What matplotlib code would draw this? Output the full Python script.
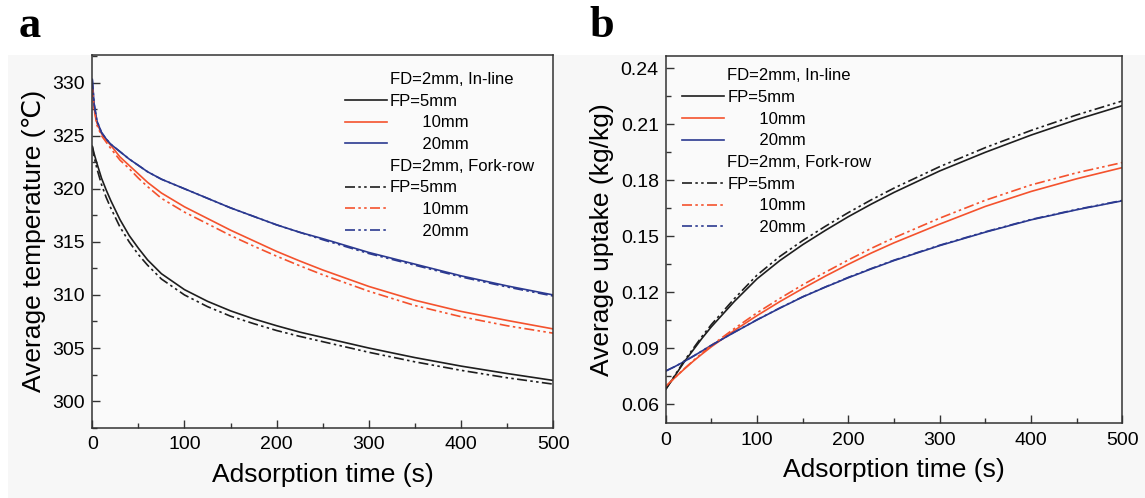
import numpy as np
import matplotlib
matplotlib.use("Agg")
import matplotlib.pyplot as plt
from matplotlib.lines import Line2D
from matplotlib.patches import Rectangle
from matplotlib.ticker import AutoMinorLocator, MultipleLocator

plt.rcParams['font.family'] = ['Liberation Sans', 'DejaVu Sans']

# --- panel a: average temperature ---
t_a = [0, 2, 5, 10, 15, 20, 30, 40, 50, 60, 75, 100, 125, 150, 175, 200,
       225, 250, 300, 350, 400, 450, 500]
T_in5 = [324.0, 323.3, 322.4, 321.0, 319.9, 318.9, 317.1, 315.6, 314.4, 313.3, 312.0, 310.5,
         309.4, 308.5, 307.75, 307.1, 306.5, 306.0, 305.0, 304.1, 303.3, 302.6, 301.95]
T_in10 = [329.6, 327.6, 326.2, 325.2, 324.6, 324.1, 323.0, 322.2, 321.4, 320.6, 319.6, 318.3,
          317.2, 316.1, 315.1, 314.1, 313.2, 312.35, 310.8, 309.5, 308.45, 307.6, 306.8]
T_in20 = [330.3, 328.0, 326.4, 325.3, 324.7, 324.2, 323.5, 322.8, 322.2, 321.6, 320.9, 320.0,
          319.1, 318.2, 317.4, 316.6, 315.9, 315.3, 314.0, 312.9, 311.8, 310.85, 310.0]
T_fk5 = [324.0, 323.0, 321.9, 320.4, 319.2, 318.2, 316.4, 315.0, 313.8, 312.8, 311.5, 310.0,
         308.9, 308.0, 307.3, 306.65, 306.1, 305.6, 304.6, 303.7, 302.9, 302.2, 301.6]
T_fk10 = [329.6, 327.5, 326.0, 325.0, 324.4, 323.8, 322.7, 321.9, 321.0, 320.2, 319.1, 317.8,
          316.7, 315.6, 314.6, 313.65, 312.75, 311.9, 310.35, 309.0, 307.95, 307.1, 306.4]
T_fk20 = [330.3, 328.0, 326.4, 325.3, 324.7, 324.2, 323.5, 322.8, 322.2, 321.6, 320.9, 320.0,
          319.1, 318.2, 317.4, 316.6, 315.9, 315.2, 313.9, 312.8, 311.7, 310.75, 309.9]

# --- panel b: average uptake ---
t_b = [0, 10, 20, 30, 40, 50, 75, 100, 125, 150, 175, 200, 225, 250, 300, 350, 400, 450, 500]
U_in5 = [0.0680, 0.0752, 0.0825, 0.0890, 0.0955, 0.1015, 0.1150, 0.1272, 0.1370, 0.1455,
         0.1532, 0.1605, 0.1672, 0.1735, 0.1850, 0.1950, 0.2042, 0.2125, 0.2200]
U_in10 = [0.0695, 0.0742, 0.0787, 0.0830, 0.0870, 0.0908, 0.0995, 0.1075, 0.1150, 0.1220,
          0.1287, 0.1350, 0.1410, 0.1465, 0.1565, 0.1660, 0.1740, 0.1808, 0.1868]
U_in20 = [0.0778, 0.0802, 0.0828, 0.0857, 0.0886, 0.0916, 0.0985, 0.1052, 0.1115, 0.1175,
          0.1228, 0.1278, 0.1325, 0.1370, 0.1450, 0.1522, 0.1588, 0.1642, 0.1690]
U_fk5 = [0.0680, 0.0755, 0.0830, 0.0898, 0.0965, 0.1027, 0.1165, 0.1292, 0.1392, 0.1477,
         0.1554, 0.1627, 0.1695, 0.1758, 0.1873, 0.1975, 0.2067, 0.2150, 0.2225]
U_fk10 = [0.0695, 0.0743, 0.0789, 0.0833, 0.0875, 0.0915, 0.1005, 0.1090, 0.1167, 0.1240,
          0.1308, 0.1373, 0.1435, 0.1492, 0.1597, 0.1693, 0.1775, 0.1840, 0.1895]
U_fk20 = [0.0778, 0.0802, 0.0828, 0.0857, 0.0886, 0.0916, 0.0986, 0.1053, 0.1116, 0.1176,
          0.1229, 0.1280, 0.1327, 0.1372, 0.1452, 0.1524, 0.1590, 0.1644, 0.1692]

colors = ['#1e1e1e', '#f4522d', '#2b3990']
dashdotdot = (0, (6, 2, 1.5, 2, 1.5, 2))
labels = ['FP=5mm', '       10mm', '       20mm']

fig = plt.figure(figsize=(11.45, 4.98), dpi=100)
fig.patches.append(Rectangle((0.007, 0.0), 0.993, 0.89, transform=fig.transFigure,
                             facecolor='#f7f7f7', edgecolor='none', zorder=-10))

ax1 = fig.add_axes([0.0806, 0.1412, 0.4026, 0.7484])
ax2 = fig.add_axes([0.5814, 0.150, 0.3988, 0.7376])


def style(ax):
    ax.set_facecolor('#fafafa')
    ax.set_xlim(0, 500)
    ax.xaxis.set_major_locator(MultipleLocator(100))
    ax.xaxis.set_minor_locator(AutoMinorLocator(2))
    ax.yaxis.set_minor_locator(AutoMinorLocator(2))
    ax.tick_params(which='both', direction='in', labelsize=14, color='#333333')
    ax.tick_params(which='major', length=6, width=1)
    ax.tick_params(which='minor', length=3.5, width=1)
    ax.tick_params(axis='x', pad=6)
    ax.tick_params(axis='y', pad=5)
    for s in ax.spines.values():
        s.set_linewidth(1.1)
        s.set_color('#333333')
    ax.set_xlabel('Adsorption time (s)', fontsize=19, labelpad=7)


def legend(ax, x, y):
    blank = Line2D([], [], linestyle='none')
    hs = [blank]
    for c in colors:
        hs.append(Line2D([], [], color=c, lw=1.2))
    hs.append(blank)
    for c in colors:
        hs.append(Line2D([], [], color=c, lw=1.2, linestyle=dashdotdot))
    ls = ['FD=2mm, In-line'] + labels + ['FD=2mm, Fork-row'] + labels
    ax.legend(hs, ls, loc='upper left', bbox_to_anchor=(x, y), frameon=False,
              fontsize=12, handlelength=2.5, handletextpad=0.2,
              labelspacing=0.4, borderpad=0, borderaxespad=0)


# panel a
for ys, c in zip([T_in5, T_in10, T_in20], colors):
    ax1.plot(t_a, ys, color=c, lw=1.2)
for ys, c in zip([T_fk5, T_fk10, T_fk20], colors):
    ax1.plot(t_a, ys, color=c, lw=1.2, linestyle=dashdotdot)
style(ax1)
ax1.set_ylim(297.5, 332.6)
ax1.yaxis.set_major_locator(MultipleLocator(5))
ax1.set_ylabel('Average temperature (\u2103)', fontsize=19, labelpad=5)
legend(ax1, 0.548, 0.954)

# panel b
for ys, c in zip([U_in5, U_in10, U_in20], colors):
    ax2.plot(t_b, ys, color=c, lw=1.2)
for ys, c in zip([U_fk5, U_fk10, U_fk20], colors):
    ax2.plot(t_b, ys, color=c, lw=1.2, linestyle=dashdotdot)
style(ax2)
ax2.set_ylim(0.0498, 0.2466)
ax2.yaxis.set_major_locator(MultipleLocator(0.03))
ax2.yaxis.set_major_formatter(plt.FuncFormatter(lambda v, p: f'{v:.2f}'))
ax2.set_ylabel('Average uptake (kg/kg)', fontsize=19, labelpad=5)
legend(ax2, 0.036, 0.966)

fig.text(0.016, 0.925, 'a', fontsize=32, fontweight='bold', family='Liberation Serif')
fig.text(0.515, 0.925, 'b', fontsize=32, fontweight='bold', family='Liberation Serif')

fig.savefig('out.png', dpi=100)
